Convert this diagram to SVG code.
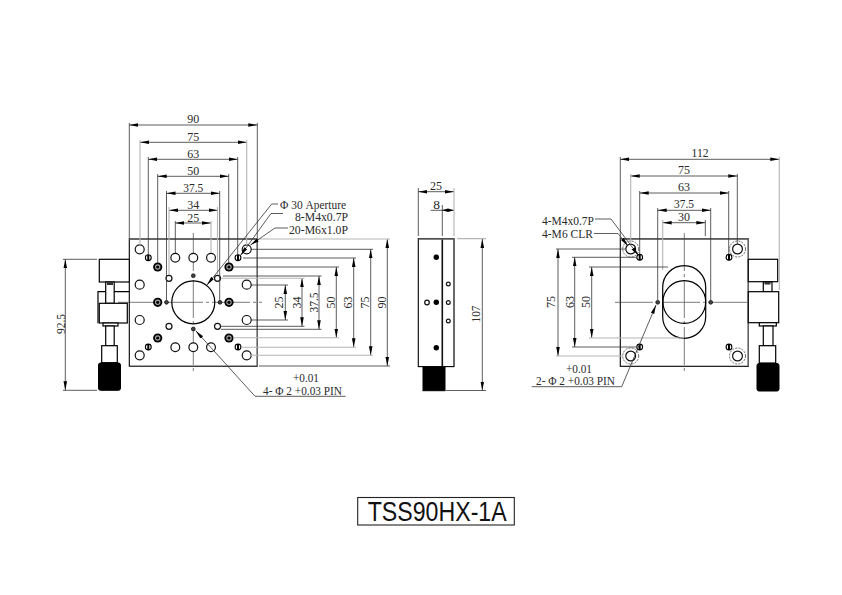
<svg xmlns="http://www.w3.org/2000/svg" width="842" height="595" viewBox="0 0 842 595">
<style>
text{font-family:"Liberation Serif","Times New Roman",serif;font-size:13.5px;fill:#2a2a2a;text-anchor:middle}
.l{text-anchor:start}
.t{font-family:"Liberation Sans",Arial,sans-serif;font-size:27px;fill:#111}
.d{fill:none;stroke:#333;stroke-width:.8}
.a{marker-start:url(#ar);marker-end:url(#ar)}
.g{fill:none;stroke:#b5b5b5;stroke-width:1.1}
.o{fill:none;stroke:#000;stroke-width:1.2}
.w{fill:#fff;stroke:#000;stroke-width:1.2}
.c{fill:none;stroke:#444;stroke-width:.7;stroke-dasharray:38 3 3 3}
.k{fill:#000;stroke:#000}
.h{fill:#fff;stroke:#111;stroke-width:1.2}
</style>
<defs>
<marker id="ar" markerUnits="userSpaceOnUse" markerWidth="10" markerHeight="6" refX="9" refY="2.5" orient="auto-start-reverse"><path d="M0,0.7L9,2.5L0,4.3Z" fill="#000"/></marker>
<marker id="as" markerUnits="userSpaceOnUse" markerWidth="7" markerHeight="6" refX="6" refY="2.5" orient="auto-start-reverse"><path d="M0,0.7L6,2.5L0,4.3Z" fill="#000"/></marker>
<g id="m6"><circle r="4.6" fill="#000"/><circle r="2.7" fill="#aaa"/><circle r="1.6" fill="#000"/></g>
<g id="m4"><circle r="2.9" fill="#fff" stroke="#000" stroke-width="1.1"/><path d="M0,-2.9V2.9" stroke="#000" stroke-width="2"/></g>
<g id="pin"><circle r="1.9" fill="#444" stroke="#111" stroke-width=".8"/></g>
<g id="clr"><circle r="4.9" class="h"/><circle r="8" fill="none" stroke="#444" stroke-width=".8" stroke-dasharray="2 1.2"/></g>
</defs>

<g id="top-view">
<rect x="129.3" y="239" width="128" height="127.2" fill="none" stroke="#000" stroke-width="1.1"/>
<path d="M129.3,239H257.3M257.3,239V366" fill="none" stroke="#666" stroke-width="1.3"/>
<path class="c" d="M193.3,233V372M118,302.3H262"/>
<circle cx="193.3" cy="302.3" r="21.5" class="o"/>
<g class="h">
<circle cx="139.7" cy="249.3" r="4.5"/><circle cx="139.7" cy="284.7" r="4.5"/><circle cx="139.7" cy="320" r="4.5"/><circle cx="139.7" cy="355.3" r="4.5"/>
<circle cx="246.7" cy="249.3" r="4.5"/><circle cx="246.7" cy="284.7" r="4.5"/><circle cx="246.7" cy="320" r="4.5"/><circle cx="246.7" cy="355.3" r="4.5"/>
<circle cx="175.3" cy="257.7" r="4.4"/><circle cx="193.3" cy="257.7" r="4.4"/><circle cx="211" cy="257.7" r="4.4"/>
<circle cx="175.3" cy="347.3" r="4.4"/><circle cx="193.3" cy="347.3" r="4.4"/><circle cx="211" cy="347.3" r="4.4"/>
<circle cx="169" cy="278.3" r="3"/><circle cx="217.5" cy="278.3" r="3"/><circle cx="169" cy="326.3" r="3"/><circle cx="217.5" cy="326.3" r="3"/>
</g>
<use href="#m6" x="157.7" y="267"/><use href="#m6" x="229" y="267"/><use href="#m6" x="157.7" y="302.3"/><use href="#m6" x="229" y="302.3"/><use href="#m6" x="157.7" y="338"/><use href="#m6" x="229" y="338"/>
<use href="#m4" x="148.3" y="257.7"/><use href="#m4" x="238" y="257.7"/><use href="#m4" x="148.3" y="347"/><use href="#m4" x="238" y="347"/>
<use href="#pin" x="193.3" y="275.7"/><use href="#pin" x="193.3" y="329"/><use href="#pin" x="166.5" y="302.3"/><use href="#pin" x="220" y="302.3"/>
</g>

<g id="left-micrometer">
<path class="o" d="M129.3,291.7H98V323.3"/>
<rect x="99.3" y="259.3" width="30" height="22.7" class="w"/>
<rect x="105.7" y="282" width="8.5" height="21.3" class="w"/>
<rect x="107" y="282" width="6" height="3" fill="#333"/>
<rect x="99.3" y="303.3" width="28" height="19.7" class="w"/>
<rect x="103" y="323" width="15" height="3" class="w"/>
<rect x="105.7" y="326" width="8.5" height="19.7" class="w"/>
<rect x="101.7" y="345.7" width="15.6" height="17" class="w"/>
<rect x="98.5" y="363" width="22" height="27.3" rx="2" class="k"/>
</g>

<g id="side-view">
<rect x="418.3" y="238.6" width="35.7" height="128" fill="#fff" stroke="#000" stroke-width="1.1"/>
<path d="M442.3,239V366.6" stroke="#111" stroke-width="1.6"/>
<path d="M418.5,239H454M454,239V366" fill="none" stroke="#666" stroke-width="1.3"/>
<rect x="423" y="367" width="22" height="23.7" class="k"/>
<circle cx="436.3" cy="257.3" r="2.7" fill="#000"/><circle cx="436.3" cy="302.3" r="2.7" fill="#000"/><circle cx="436.3" cy="347.7" r="2.7" fill="#000"/>
<circle cx="427" cy="302.5" r="2.3" class="h"/>
<circle cx="448.3" cy="284" r="1.9" class="h"/><circle cx="448.3" cy="302.5" r="1.9" class="h"/><circle cx="448.3" cy="321" r="1.9" class="h"/>
</g>

<g id="bottom-view">
<rect x="620.3" y="238.8" width="128" height="127.5" fill="none" stroke="#000" stroke-width="1.1"/>
<path d="M620.3,239H748.3M748.3,239V366" fill="none" stroke="#666" stroke-width="1.3"/>
<path class="c" d="M684.3,233V373M615,302.3H754"/>
<rect x="662.7" y="265.7" width="43" height="72.6" rx="21.5" class="o"/>
<circle cx="684.3" cy="302" r="21.4" class="o"/>
<use href="#clr" x="630.7" y="249"/><use href="#clr" x="737.5" y="249"/><use href="#clr" x="630.7" y="356"/><use href="#clr" x="737.5" y="356"/>
<use href="#m4" x="639.7" y="257.3"/><use href="#m4" x="729" y="257.3"/><use href="#m4" x="639.7" y="347"/><use href="#m4" x="729" y="347"/>
<use href="#pin" x="657.7" y="302.3"/><use href="#pin" x="710.7" y="302.3"/>
</g>

<g id="right-micrometer">
<rect x="748.3" y="259.3" width="29.4" height="22.4" class="w"/>
<rect x="763.3" y="282" width="8.7" height="9.7" class="w"/>
<rect x="764.5" y="282" width="6" height="2.5" fill="#333"/>
<rect x="748.3" y="291.7" width="30.4" height="31" class="w"/>
<rect x="759.3" y="322.7" width="17" height="3.3" class="w"/>
<rect x="763.3" y="326" width="9.7" height="19.7" class="w"/>
<rect x="759.3" y="345.7" width="16.4" height="17.3" class="w"/>
<rect x="757" y="363.5" width="22" height="27.5" rx="2" class="k"/>
</g>

<g id="title">
<rect x="357.7" y="497.5" width="156.6" height="27.5" fill="#fff" stroke="#222" stroke-width="1.1"/>
<text class="t l" x="367.7" y="521" textLength="139" lengthAdjust="spacingAndGlyphs">TSS90HX-1A</text>
</g>

<g id="connectors">
<path class="d a" d="M129.3,125H257.3"/>
<path class="d a" d="M140,142.3H246.7"/>
<path class="d a" d="M148.3,159.3H237.7"/>
<path class="d a" d="M157.7,176.3H228.7"/>
<path class="d a" d="M166.5,193.3H219.7"/>
<path class="d a" d="M169,210.3H217.5"/>
<path class="d a" d="M175.3,223H211"/>
<path class="d" d="M129.3,123V239M257.3,123V239M148.3,157V255M237.7,157V255M157.7,174V263M228.7,174V263M166.5,191V300M219.7,191V300M175.3,221V253"/>
<path class="g" d="M140,140V245M246.7,140V245M169,207V275M217.5,207V275M211,221V253"/>
<path class="d a" d="M387.3,239V366"/>
<path class="d a" d="M370.7,249.3V355.3"/>
<path class="d a" d="M353.7,258V347.3"/>
<path class="d a" d="M336.3,267V337.7"/>
<path class="d a" d="M319,276V329.3"/>
<path class="d a" d="M302,278.3V326.3"/>
<path class="d a" d="M285.3,285V320"/>
<path class="d" d="M251,249.3H373M243,258H356M233,267H339M223,276H321.5M221,326.3H304.5M221,329.3H321.5M251,285H288M251,320H288M259,366H390"/>
<path class="g" d="M221,278.3H304.5M233,337.7H339M241,347.3H356M251,355.3H373M257,239H390"/>
<path class="d a" d="M65.3,259.3V390.3"/>
<path class="d" d="M63,259.3H97M63,390.3H97"/>
<path class="d a" d="M418.3,191.7H454"/>
<path class="d" d="M430.7,210.3H454" marker-end="url(#as)"/>
<path class="d" d="M442.3,210.3H448" marker-start="url(#as)"/>
<path class="d" d="M418.3,188V236M442.3,205V236"/>
<path class="g" d="M454,188V236M457,238.6H486"/>
<path class="d a" d="M482.3,239V390.5"/>
<path class="d" d="M446,390.5H486"/>
<path class="d a" d="M620.3,159.3H779.3"/>
<path class="d a" d="M630.7,176H737.3"/>
<path class="d a" d="M639.7,193H728.7"/>
<path class="d a" d="M657.7,210.3H710.7"/>
<path class="d a" d="M662.7,222.7H705.3"/>
<path class="d" d="M620.3,157V239M737.3,174V244M639.7,191V254M728.7,191V254M657.7,208V300M710.7,208V300M705.3,220V236"/>
<path class="g" d="M779.3,157V290M630.7,174V244M662.7,220V270"/>
<path class="d a" d="M558,249V356"/>
<path class="d a" d="M574.7,257.3V347"/>
<path class="d a" d="M591.7,267V338"/>
<path class="d" d="M556,249H625M572,257.3H636M589,267H668M572,347H636"/>
<path class="g" d="M556,356H622M589,338H684"/>
<path class="d" d="M278,204H271.7L207,285" marker-end="url(#ar)"/>
<path class="d" d="M283,213.5H271L240.5,255.5" marker-end="url(#ar)"/>
<path class="d" d="M288,228H275L250.5,245" marker-end="url(#ar)"/>
<path class="d" d="M345.6,396.3H255L195.7,330.7" marker-end="url(#ar)"/>
<path class="d" d="M595,219H611L638.5,255.5" marker-end="url(#ar)"/>
<path class="d" d="M594,233.5H618L628,246" marker-end="url(#ar)"/>
<path class="d" d="M531.7,386.7H621.7L656,305" marker-end="url(#ar)"/>
</g>

<g id="labels">
<text x="193.3" y="123.3" textLength="12" lengthAdjust="spacingAndGlyphs">90</text>
<text x="193.3" y="140.7" textLength="12" lengthAdjust="spacingAndGlyphs">75</text>
<text x="193.3" y="157.7" textLength="12" lengthAdjust="spacingAndGlyphs">63</text>
<text x="193.3" y="174.7" textLength="12" lengthAdjust="spacingAndGlyphs">50</text>
<text x="193.3" y="191.7" textLength="20" lengthAdjust="spacingAndGlyphs">37.5</text>
<text x="193.3" y="208.7" textLength="12" lengthAdjust="spacingAndGlyphs">34</text>
<text x="193.3" y="222" textLength="12" lengthAdjust="spacingAndGlyphs">25</text>
<text transform="translate(64.5,324) rotate(-90)" textLength="20" lengthAdjust="spacingAndGlyphs">92.5</text>
<text transform="translate(283,302.5) rotate(-90)" textLength="12" lengthAdjust="spacingAndGlyphs">25</text>
<text transform="translate(301,302.5) rotate(-90)" textLength="12" lengthAdjust="spacingAndGlyphs">34</text>
<text transform="translate(318,302.5) rotate(-90)" textLength="20" lengthAdjust="spacingAndGlyphs">37.5</text>
<text transform="translate(335,302.5) rotate(-90)" textLength="12" lengthAdjust="spacingAndGlyphs">50</text>
<text transform="translate(352,302.5) rotate(-90)" textLength="12" lengthAdjust="spacingAndGlyphs">63</text>
<text transform="translate(369,302.5) rotate(-90)" textLength="12" lengthAdjust="spacingAndGlyphs">75</text>
<text transform="translate(386,302.5) rotate(-90)" textLength="12" lengthAdjust="spacingAndGlyphs">90</text>
<text class="l" x="280" y="209" textLength="66" lengthAdjust="spacingAndGlyphs">Φ 30 Aperture</text>
<text class="l" x="295" y="221" textLength="53" lengthAdjust="spacingAndGlyphs">8-M4x0.7P</text>
<text class="l" x="289" y="234" textLength="59" lengthAdjust="spacingAndGlyphs">20-M6x1.0P</text>
<text x="306" y="382" textLength="26" lengthAdjust="spacingAndGlyphs">+0.01</text>
<text class="l" x="263" y="394.5" textLength="79" lengthAdjust="spacingAndGlyphs">4- Φ 2 +0.03 PIN</text>
<text x="436" y="190" textLength="12" lengthAdjust="spacingAndGlyphs">25</text>
<text x="436.5" y="208.5">8</text>
<text transform="translate(480,314) rotate(-90)" textLength="17" lengthAdjust="spacingAndGlyphs">107</text>
<text x="700" y="157" textLength="17" lengthAdjust="spacingAndGlyphs">112</text>
<text x="684" y="174" textLength="12" lengthAdjust="spacingAndGlyphs">75</text>
<text x="684" y="191" textLength="12" lengthAdjust="spacingAndGlyphs">63</text>
<text x="684" y="208" textLength="20" lengthAdjust="spacingAndGlyphs">37.5</text>
<text x="684" y="221" textLength="12" lengthAdjust="spacingAndGlyphs">30</text>
<text transform="translate(555,302) rotate(-90)" textLength="12" lengthAdjust="spacingAndGlyphs">75</text>
<text transform="translate(573.5,302) rotate(-90)" textLength="12" lengthAdjust="spacingAndGlyphs">63</text>
<text transform="translate(590,302) rotate(-90)" textLength="12" lengthAdjust="spacingAndGlyphs">50</text>
<text class="l" x="542" y="225" textLength="52" lengthAdjust="spacingAndGlyphs">4-M4x0.7P</text>
<text class="l" x="542" y="238" textLength="51" lengthAdjust="spacingAndGlyphs">4-M6 CLR</text>
<text x="579" y="372.5" textLength="26" lengthAdjust="spacingAndGlyphs">+0.01</text>
<text class="l" x="536" y="385" textLength="79" lengthAdjust="spacingAndGlyphs">2- Φ 2 +0.03 PIN</text>
</g>
</svg>
